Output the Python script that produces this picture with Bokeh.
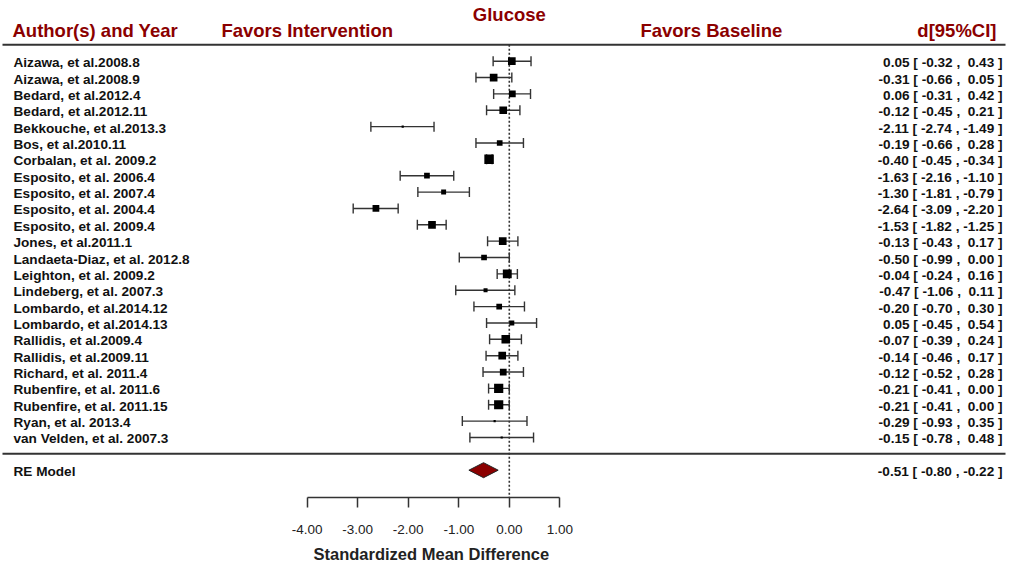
from bokeh.plotting import figure
from bokeh.models import Range1d, FixedTicker, ColumnDataSource, Title
from bokeh.core.properties import value
from bokeh.embed import file_html
from bokeh.resources import INLINE

# ---------------- data ----------------
studies = [
    "Aizawa, et al.2008.8", "Aizawa, et al.2008.9", "Bedard, et al.2012.4",
    "Bedard, et al.2012.11", "Bekkouche, et al.2013.3", "Bos, et al.2010.11",
    "Corbalan, et al. 2009.2", "Esposito, et al. 2006.4", "Esposito, et al. 2007.4",
    "Esposito, et al. 2004.4", "Esposito, et al. 2009.4", "Jones, et al.2011.1",
    "Landaeta-Diaz, et al. 2012.8", "Leighton, et al. 2009.2", "Lindeberg, et al. 2007.3",
    "Lombardo, et al.2014.12", "Lombardo, et al.2014.13", "Rallidis, et al.2009.4",
    "Rallidis, et al.2009.11", "Richard, et al. 2011.4", "Rubenfire, et al. 2011.6",
    "Rubenfire, et al. 2011.15", "Ryan, et al. 2013.4", "van Velden, et al. 2007.3",
]
est = [0.05, -0.31, 0.06, -0.12, -2.11, -0.19, -0.40, -1.63, -1.30, -2.64, -1.53, -0.13,
       -0.50, -0.04, -0.47, -0.20, 0.05, -0.07, -0.14, -0.12, -0.21, -0.21, -0.29, -0.15]
ci_lo = [-0.32, -0.66, -0.31, -0.45, -2.74, -0.66, -0.45, -2.16, -1.81, -3.09, -1.82, -0.43,
         -0.99, -0.24, -1.06, -0.70, -0.45, -0.39, -0.46, -0.52, -0.41, -0.41, -0.93, -0.78]
ci_hi = [0.43, 0.05, 0.42, 0.21, -1.49, 0.28, -0.34, -1.10, -0.79, -2.20, -1.25, 0.17,
         0.00, 0.16, 0.11, 0.30, 0.54, 0.24, 0.17, 0.28, 0.00, 0.00, 0.35, 0.48]
# estimated relative study weights (%) read from square sizes
weights = [4.8, 4.8, 4.2, 4.8, 1.2, 3.5, 6.0, 3.5, 3.0, 4.2, 4.8, 4.8,
           3.5, 5.6, 2.4, 3.5, 3.0, 5.4, 4.8, 4.2, 5.8, 5.8, 1.2, 1.2]

re_label = "RE Model"
re_est, re_lo, re_hi = -0.51, -0.80, -0.22

ticks = [-4, -3, -2, -1, 0, 1]
tick_labels = ["-4.00", "-3.00", "-2.00", "-1.00", "0.00", "1.00"]

title = "Glucose"
col_left = "Author(s) and Year"
col_right = "d[95%CI]"
favors_left = "Favors Intervention"
favors_right = "Favors Baseline"
x_title = "Standardized Mean Difference"

# ---------------- layout ----------------
W, H = 1010, 571
PX_PER_UNIT = 50.52
ZERO_PX = 508.8
ROW0_PX = 60.7
ROW_PX = 16.36
FRAME_H = 497

x0 = -ZERO_PX / PX_PER_UNIT
x1 = (W - ZERO_PX) / PX_PER_UNIT
y_top = -ROW0_PX / ROW_PX
y_bot = (FRAME_H - ROW0_PX) / ROW_PX

def fmt(v):
    s = f"{v:.2f}"
    return s if v < 0 else "\u00a0" + s

n = len(studies)
rows = list(range(n))
wmin, wmax = min(weights), max(weights)
sizes = [2.2 + (w - wmin) / (wmax - wmin) * 7.3 for w in weights]
ci_text = [f"{fmt(e)} [ {fmt(l)} , {fmt(h)} ]" for e, l, h in zip(est, ci_lo, ci_hi)]
cap_h = 5 / ROW_PX

src = ColumnDataSource(dict(study=studies, est=est, lo=ci_lo, hi=ci_hi, y=rows,
                            ya=[r - cap_h for r in rows], yb=[r + cap_h for r in rows],
                            size=sizes, ci=ci_text,
                            xl=[x0] * n, xr=[x1] * n))

p = figure(width=W, height=H, x_range=Range1d(x0, x1), y_range=Range1d(y_bot, y_top),
           output_backend="svg", toolbar_location=None,
           min_border_left=0, min_border_right=0, min_border_top=0, min_border_bottom=H - FRAME_H,
           y_axis_location=None, x_axis_location="below")
p.grid.visible = False
p.outline_line_color = None
p.background_fill_color = "white"
p.border_fill_color = "white"

FONT = value("Liberation Sans")
DARK = "#8B0000"
INK = "#333333"
TXT = "#111111"
FS = "13.6px"
HFS = "18.5px"

# x axis (library axis, bounded)
ax = p.xaxis[0]
ax.ticker = FixedTicker(ticks=ticks)
ax.major_label_overrides = {t: lab for t, lab in zip(ticks, tick_labels)}
ax.bounds = (min(ticks), max(ticks))
ax.major_tick_in = 0
ax.major_tick_out = 10
ax.minor_tick_out = 0
ax.minor_tick_in = 0
ax.axis_line_color = INK
ax.axis_line_width = 1.5
ax.major_tick_line_color = INK
ax.major_tick_line_width = 1.5
ax.major_label_text_font = "Liberation Sans"
ax.major_label_text_font_size = "13.5px"
ax.major_label_text_color = "#222222"
ax.major_label_standoff = 17

# axis title, placed under the bounded axis (left edge at its pixel position)
axis_mid_px = ZERO_PX + PX_PER_UNIT * (ticks[0] + ticks[-1]) / 2
p.add_layout(Title(text=x_title, align="left", offset=axis_mid_px - 120,
                   text_font="Liberation Sans", text_font_style="bold",
                   text_font_size="16.5px", text_color="#222222", standoff=13), "below")

# rules
p.segment(x0=[x0 + 2 / PX_PER_UNIT] * 2, x1=[x1 - 5 / PX_PER_UNIT] * 2, y0=[-1, n], y1=[-1, n],
          line_color=INK, line_width=2)
# zero line
p.segment(x0=[0], x1=[0], y0=[-1], y1=[y_bot], line_color=INK, line_width=1.6, line_dash="2 2")

# CI lines and caps
p.segment(x0="lo", x1="hi", y0="y", y1="y", source=src, line_color=INK, line_width=1.4)
p.segment(x0="lo", x1="lo", y0="ya", y1="yb", source=src, line_color=INK, line_width=1.4)
p.segment(x0="hi", x1="hi", y0="ya", y1="yb", source=src, line_color=INK, line_width=1.4)
# squares
p.scatter(x="est", y="y", size="size", marker="square", source=src,
          fill_color="black", line_color="black", line_width=0)

# RE diamond
re_row = n + 1
dh = 7.5 / ROW_PX
p.patch(x=[re_lo, re_est, re_hi, re_est], y=[re_row, re_row - dh, re_row, re_row + dh],
        fill_color=DARK, line_color="#222222", line_width=1)

# study labels and CI text
p.text(x="xl", y="y", text="study", source=src, x_offset=13, y_offset=1.5, text_font=FONT,
       text_font_style="bold", text_font_size=FS, text_color=TXT,
       text_baseline="middle", text_align="left")
p.text(x="xr", y="y", text="ci", source=src, x_offset=-8, y_offset=1.5, text_font=FONT,
       text_font_style="bold", text_font_size=FS, text_color=TXT,
       text_baseline="middle", text_align="right")
p.text(x=[x0], y=[re_row], text=[re_label], x_offset=13, y_offset=1.5, text_font=FONT,
       text_font_style="bold", text_font_size=FS, text_color=TXT,
       text_baseline="middle", text_align="left")
p.text(x=[x1], y=[re_row], text=[f"{fmt(re_est)} [ {fmt(re_lo)} , {fmt(re_hi)} ]"], x_offset=-8,
       y_offset=1.5, text_font=FONT, text_font_style="bold", text_font_size=FS, text_color=TXT,
       text_baseline="middle", text_align="right")

# headers
hy = -2.0
p.text(x=[x0], y=[hy], text=[col_left], x_offset=12, y_offset=2, text_font=FONT,
       text_font_style="bold", text_font_size=HFS, text_color=DARK,
       text_baseline="middle", text_align="left")
p.text(x=[-4, 4], y=[hy, hy], text=[favors_left, favors_right], y_offset=2, text_font=FONT,
       text_font_style="bold", text_font_size=HFS, text_color=DARK,
       text_baseline="middle", text_align="center")
p.text(x=[x1], y=[hy], text=[col_right], x_offset=-14, y_offset=2, text_font=FONT,
       text_font_style="bold", text_font_size=HFS, text_color=DARK,
       text_baseline="middle", text_align="right")
p.text(x=[0], y=[-2.86], text=[title], text_font=FONT, text_font_style="bold",
       text_font_size=HFS, text_color=DARK, text_baseline="middle", text_align="center")

open("out.html", "w").write(file_html(p, INLINE))
